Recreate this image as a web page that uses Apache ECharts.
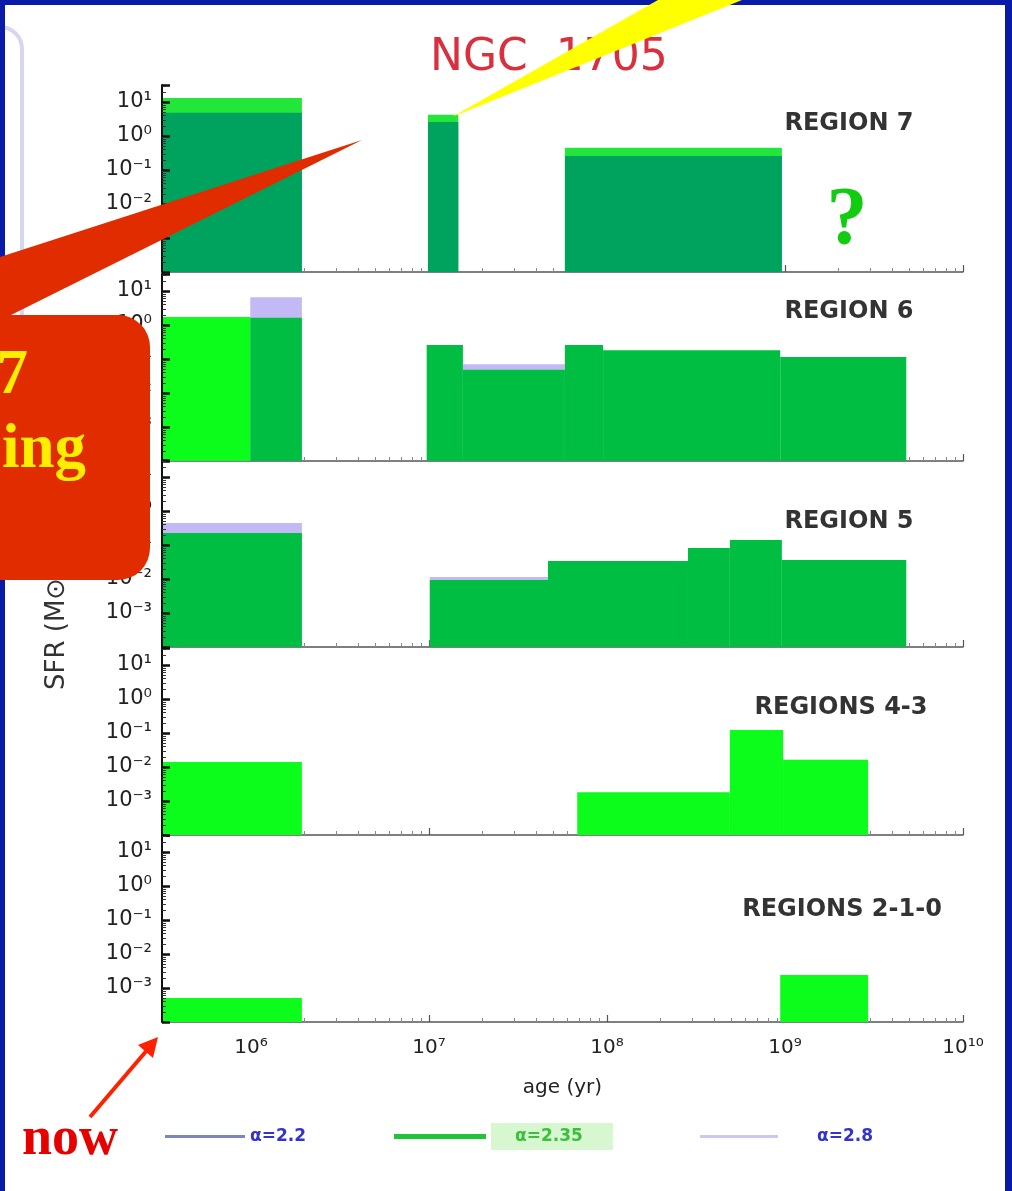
<!DOCTYPE html>
<html>
<head>
<meta charset="utf-8">
<script src="https://cdn.jsdelivr.net/npm/echarts@6/dist/echarts.min.js"></script>
<style>
html,body{margin:0;padding:0;background:#ffffff;}
#chart{width:1012px;height:1191px;}
</style>
</head>
<body>
<div id="chart"></div>
<script>
// ---------------- DATA ----------------
const chartTitle = 'NGC  1705';
const panelNames = ['REGION 7', 'REGION 6', 'REGION 5', 'REGIONS 4-3', 'REGIONS 2-1-0'];
const alphaNames = ['α=2.2', 'α=2.35', 'α=2.8'];
const xTickExps = [6, 7, 8, 9, 10];
const xTickLabels = ['10⁶', '10⁷', '10⁸', '10⁹', '10¹⁰'];
const yTickExps = [1, 0, -1, -2, -3];
const yTickLabels = ['10¹', '10⁰', '10⁻¹', '10⁻²', '10⁻³'];
const xMin = 3.16e5, xMax = 1e10;   // age (yr)
const yMin = 1e-4, yMax = 31.6;     // SFR

// Region 7 : age bins (yr) and SFR per IMF slope
const r7Start = [3.16e5, 9.86e6, 5.8e7];
const r7End   = [1.93e6, 1.46e7, 9.6e8];
const r7A22   = [13.2, 4.2, 0.45];
const r7A235  = [4.8, 2.6, 0.26];
const r7A28   = [null, null, null];

// Region 6
const r6Start = [3.16e5, 9.9e5, 9.7e6, 1.55e7, 5.8e7, 9.5e7, 9.4e8];
const r6End   = [9.9e5, 1.93e6, 1.55e7, 5.8e7, 9.5e7, 9.4e8, 4.8e9];
const r6A22   = [1.72, null, null, null, null, null, null];
const r6A235  = [null, 1.62, 0.26, 0.048, 0.26, 0.18, 0.115];
const r6A28   = [null, 6.6, null, 0.07, null, null, null];

// Region 5
const r5Start = [3.16e5, 1.01e7, 4.66e7, 2.85e8, 4.9e8, 9.6e8];
const r5End   = [1.93e6, 4.66e7, 2.85e8, 4.9e8, 9.6e8, 4.8e9];
const r5A22   = [null, null, null, null, null, null];
const r5A235  = [0.224, 0.0093, 0.034, 0.081, 0.141, 0.036];
const r5A28   = [0.447, 0.0115, null, null, null, null];

// Regions 4-3
const r43Start = [3.16e5, 6.8e7, 4.9e8, 9.75e8];
const r43End   = [1.93e6, 4.9e8, 9.75e8, 2.93e9];
const r43A22   = [0.0141, 0.0018, 0.123, 0.0162];
const r43A235  = [null, null, null, null];
const r43A28   = [null, null, null, null];

// Regions 2-1-0
const r210Start = [3.16e5, 9.4e8];
const r210End   = [1.93e6, 2.93e9];
const r210A22   = [0.00051, 0.0024];
const r210A235  = [null, null];
const r210A28   = [null, null];

// ---------------- BUILD ----------------
const panels = [
  {start: r7Start, end: r7End, a22: r7A22, a235: r7A235, a28: r7A28},
  {start: r6Start, end: r6End, a22: r6A22, a235: r6A235, a28: r6A28},
  {start: r5Start, end: r5End, a22: r5A22, a235: r5A235, a28: r5A28},
  {start: r43Start, end: r43End, a22: r43A22, a235: r43A235, a28: r43A28},
  {start: r210Start, end: r210End, a22: r210A22, a235: r210A235, a28: r210A28}
];

const gridTops = [85, 274, 460, 648, 835];
const gridLeft = 162, gridWidth = 801, gridHeight = 187;

const colA28 = '#c3b9f5';
const colA22 = ['#22e63a', '#0cfc1c', '#0cfc1c', '#0cfc1c', '#0cfc1c'];
const colA235 = ['#00a35e', '#00be42', '#00be42', '#00be42', '#00be42'];

function binData(p, vals) {
  const out = [];
  for (let i = 0; i < vals.length; i++) {
    if (vals[i] != null) out.push([p.start[i], p.end[i], vals[i]]);
  }
  return out;
}

function renderBin(params, api) {
  const top = api.coord([api.value(0), api.value(2)]);
  const bot = api.coord([api.value(1), yMin]);
  return {
    type: 'rect',
    shape: {x: top[0], y: top[1], width: bot[0] - top[0], height: bot[1] - top[1]},
    style: api.style()
  };
}

const grids = [], xAxes = [], yAxes = [], series = [];
panels.forEach((p, i) => {
  grids.push({left: gridLeft, top: gridTops[i], width: gridWidth, height: gridHeight});
  const isBottom = i === panels.length - 1;
  xAxes.push({
    type: 'log', logBase: 10, gridIndex: i, min: xMin, max: xMax,
    axisLine: {show: true, lineStyle: {color: '#555', width: 1.5}},
    axisTick: {show: true, inside: true, length: 7, lineStyle: {color: '#555', width: 1.2}},
    minorTick: {show: true, splitNumber: 9, length: 4, lineStyle: {color: '#888', width: 1}},
    splitLine: {show: false},
    axisLabel: {
      show: isBottom, margin: 16, color: '#222', fontSize: 20, fontFamily: 'DejaVu Sans',
      formatter: v => {
        const e = Math.log10(v);
        const idx = xTickExps.findIndex(t => Math.abs(t - e) < 1e-6);
        return idx >= 0 ? xTickLabels[idx] : '';
      }
    },
    name: isBottom ? 'age (yr)' : '',
    nameLocation: 'middle', nameGap: 56,
    nameTextStyle: {color: '#222', fontSize: 20, fontFamily: 'DejaVu Sans'}
  });
  yAxes.push({
    type: 'log', logBase: 10, gridIndex: i, min: yMin, max: yMax, z: 5,
    axisLine: {show: true, lineStyle: {color: '#111', width: 2}},
    axisTick: {show: true, inside: true, length: 8, lineStyle: {color: '#111', width: 2.5}},
    minorTick: {show: true, splitNumber: 9, length: 4, lineStyle: {color: '#333', width: 1}},
    splitLine: {show: false},
    axisLabel: {
      margin: 10, color: '#222', fontSize: 21, fontFamily: 'DejaVu Sans',
      formatter: v => {
        const e = Math.log10(v);
        const idx = yTickExps.findIndex(t => Math.abs(t - e) < 1e-6);
        return idx >= 0 ? yTickLabels[idx] : '';
      }
    }
  });
  const layers = [
    {name: alphaNames[2], vals: p.a28, color: colA28},
    {name: alphaNames[0], vals: p.a22, color: colA22[i]},
    {name: alphaNames[1], vals: p.a235, color: colA235[i]}
  ];
  layers.forEach((L, k) => {
    series.push({
      type: 'custom', name: L.name, xAxisIndex: i, yAxisIndex: i,
      renderItem: renderBin, clip: true, z: 2 + k,
      encode: {x: [0, 1], y: 2},
      itemStyle: {color: L.color},
      data: binData(p, L.vals)
    });
  });
});

const regionLabelPos = [[849, 124], [849, 312], [849, 522], [841, 708], [842, 910]];
const graphics = [];

// lavender rounded frame (slide decoration)
graphics.push({type: 'rect', z: 1, shape: {x: -40, y: 27, width: 62, height: 500, r: 22},
  style: {fill: '#ffffff', stroke: '#d6d6f2', lineWidth: 4}});
// blue slide border
graphics.push({type: 'rect', z: 50, shape: {x: 0, y: 0, width: 1012, height: 5}, style: {fill: '#0a1aa8'}});
graphics.push({type: 'rect', z: 50, shape: {x: 0, y: 0, width: 5, height: 1191}, style: {fill: '#0a1aa8'}});
graphics.push({type: 'rect', z: 50, shape: {x: 1005, y: 0, width: 7, height: 1191}, style: {fill: '#0a1aa8'}});

// region labels
panelNames.forEach((n, i) => {
  graphics.push({type: 'text', z: 20, x: regionLabelPos[i][0], y: regionLabelPos[i][1],
    style: {text: n, fill: '#333', font: 'bold 24px "DejaVu Sans"', textAlign: 'center', textVerticalAlign: 'middle'}});
});

// y-axis name
graphics.push({type: 'text', z: 20, x: 57, y: 690, rotation: Math.PI / 2,
  style: {text: 'SFR (M⊙ yr⁻¹ kpc⁻²)', fill: '#333', font: '26px "DejaVu Sans"', textAlign: 'left', textVerticalAlign: 'middle'}});

// yellow callout wedge
graphics.push({type: 'polygon', z: 100, shape: {points: [[658, 0], [742, 0], [452, 117]]}, style: {fill: '#ffff00'}});
// red callout wedge + box
graphics.push({type: 'polygon', z: 100, shape: {points: [[362, 140], [0, 257], [0, 318], [9, 316]]}, style: {fill: '#e12c00'}});
graphics.push({type: 'rect', z: 100, shape: {x: -40, y: 315, width: 190, height: 265, r: 32}, style: {fill: '#e12c00'}});
graphics.push({type: 'text', z: 101, x: 28, y: 377,
  style: {text: '7', fill: '#ffee00', font: 'bold 63px "Liberation Serif"', textAlign: 'right', textVerticalAlign: 'middle'}});
graphics.push({type: 'text', z: 101, x: 86, y: 451,
  style: {text: 'ing', fill: '#ffee00', font: 'bold 63px "Liberation Serif"', textAlign: 'right', textVerticalAlign: 'middle'}});
// green question mark
graphics.push({type: 'text', z: 100, x: 847, y: 222,
  style: {text: '?', fill: '#11cc11', font: 'bold 82px "Liberation Serif"', textAlign: 'center', textVerticalAlign: 'middle'}});
// "now" with arrow
graphics.push({type: 'text', z: 100, x: 22, y: 1140,
  style: {text: 'now', fill: '#e60000', font: 'bold 54px "Liberation Serif"', textAlign: 'left', textVerticalAlign: 'middle'}});
graphics.push({type: 'line', z: 100, shape: {x1: 90, y1: 1117, x2: 148, y2: 1049}, style: {stroke: '#ff2200', lineWidth: 4}});
graphics.push({type: 'polygon', z: 100, shape: {points: [[158, 1037], [153, 1058], [138, 1045]]}, style: {fill: '#ff2200'}});

const legendText = {fontSize: 17, fontWeight: 'bold', fontFamily: 'DejaVu Sans'};
const option = {
  animation: false,
  backgroundColor: '#ffffff',
  title: {
    text: chartTitle, left: 430, top: 37, padding: 0,
    textStyle: {color: '#d9303f', fontSize: 44, fontWeight: 'normal', fontFamily: 'DejaVu Sans'}
  },
  legend: [
    {data: [{name: alphaNames[0], itemStyle: {color: '#7c86b8'}, textStyle: {color: '#3434c8'}}],
     left: 165, top: 1128, padding: 0, itemWidth: 80, itemHeight: 3, icon: 'rect', selectedMode: false,
     textStyle: legendText},
    {data: [{name: alphaNames[1], itemStyle: {color: '#1fc43a'}, textStyle: {color: '#3cbf3c', backgroundColor: '#d6f7cf', padding: [5, 30, 5, 24]}}],
     left: 394, top: 1123, padding: 0, itemWidth: 92, itemHeight: 5, icon: 'rect', selectedMode: false,
     textStyle: legendText},
    {data: [{name: alphaNames[2], itemStyle: {color: '#c9c9f2'}, textStyle: {color: '#3434c8', padding: [0, 0, 0, 34]}}],
     left: 700, top: 1128, padding: 0, itemWidth: 78, itemHeight: 3, icon: 'rect', selectedMode: false,
     textStyle: legendText}
  ],
  grid: grids,
  xAxis: xAxes,
  yAxis: yAxes,
  series: series,
  graphic: {elements: graphics}
};

const chart = echarts.init(document.getElementById('chart'), null, {renderer: 'canvas'});
chart.setOption(option);
</script>
</body>
</html>
